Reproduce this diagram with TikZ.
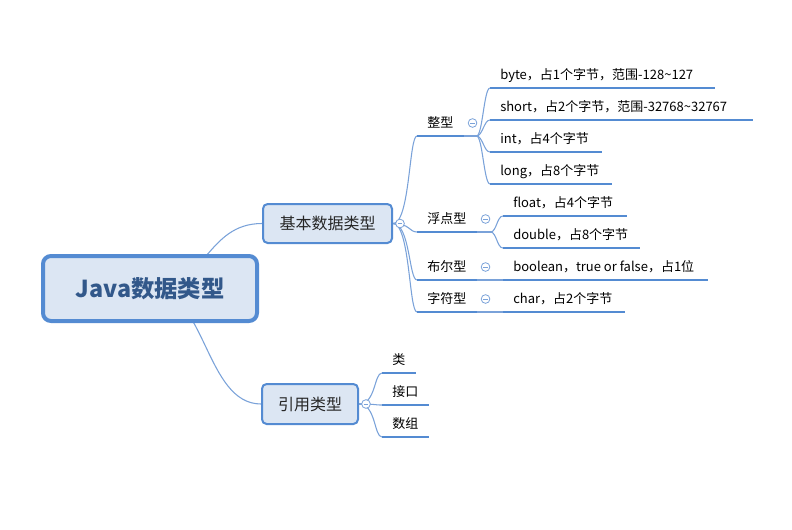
\documentclass[tikz,border=0pt]{standalone}
\usepackage{fontspec}
\setmainfont{Noto Sans CJK SC}
\usepackage{tikz}
\usetikzlibrary{positioning,calc,backgrounds}
\definecolor{mapblue}{RGB}{84,139,210}
\definecolor{thinblue}{RGB}{122,162,217}
\definecolor{boxfill}{RGB}{220,230,243}
\definecolor{roottext}{RGB}{50,88,138}
\tikzset{
  rootbox/.style={draw=mapblue, line width=3pt, fill=boxfill, rounded corners=6pt,
    minimum width=160.5pt, minimum height=48.75pt, text=roottext,
    font=\fontsize{17.5}{20}\selectfont\bfseries},
  mainbox/.style={draw=mapblue, line width=1.5pt, fill=boxfill, rounded corners=3.5pt,
    text=black!85, font=\fontsize{12}{14}\selectfont},
  topic/.style={anchor=south west, inner xsep=7.5pt, inner ysep=3.5pt,
    text height=8pt, text depth=2.5pt, font=\fontsize{9.75}{11}\selectfont},
  uline/.style={draw=mapblue, line width=2.2pt},
  branch/.style={draw=thinblue, line width=0.8pt},
  fold/.style={circle, draw=thinblue, fill=white, line width=0.6pt, minimum size=6.5pt, inner sep=0pt,
    path picture={\draw[thinblue, line width=0.6pt] ([xshift=1.4pt]path picture bounding box.west) -- ([xshift=-1.4pt]path picture bounding box.east);}}
}
\begin{document}
\begin{tikzpicture}[x=0.75pt,y=-0.75pt]
\useasboundingbox (0,0) rectangle (792,529);
\node[rootbox] (root) at (150,288.5) {Java数据类型};
\node[mainbox, minimum width=96.75pt, minimum height=29.25pt] (basic) at (327.5,223.5) {基本数据类型};
\node[mainbox, minimum width=72pt, minimum height=30pt] (ref) at (310,404) {引用类型};
\node[fold] (basicdot) at ($(basic.east)+(7,0)$) {};
\node[fold] (refdot) at ($(ref.east)+(7,0)$) {};
% second level
\node[topic] (zheng) at (417,136) {整型};
\node[topic] (fudian) at (417,232) {浮点型};
\node[topic] (buer) at (417,280) {布尔型};
\node[topic] (zifu) at (417,312) {字符型};
\node[topic] (lei) at (382,373) {类};
\node[topic] (jiekou) at (382,405) {接口};
\node[topic] (shuzu) at (382,437) {数组};
\foreach \n in {zheng,fudian,buer,zifu}
  \node[fold] (\n dot) at ($(\n.south east)+(9,-13)$) {};
% leaves
\node[topic] (byte) at (490,88) {byte，占1个字节，范围-128\textasciitilde127};
\node[topic] (short) at (490,120) {short，占2个字节，范围-32768\textasciitilde32767};
\node[topic] (int) at (490,152) {int，占4个字节};
\node[topic] (long) at (490,184) {long，占8个字节};
\node[topic] (float) at (503,216) {float，占4个字节};
\node[topic] (double) at (503,248) {double，占8个字节};
\node[topic] (bool) at (503,280) {boolean，true or false，占1位};
\node[topic] (char) at (503,312) {char，占2个字节};
\foreach \n in {zheng,fudian,buer,zifu,lei,jiekou,shuzu}
  \draw[uline] (\n.south west) -- (\n.south east);
\foreach \n/\l in {byte/225,short/263,int/112,long/122,float/124,double/137,bool/205,char/122}
  \draw[uline] (\n.south west) -- ++(\l,0);
\begin{scope}[on background layer]
  \draw[branch] (root.center) .. controls +(56,0) and +(-56,0) .. (basic.west);
  \draw[branch] (root.center) .. controls +(56,0) and +(-56,0) .. (ref.west);
  \foreach \n in {zheng,fudian,buer,zifu}
    \draw[branch] (basic.east) .. controls +(17,0) and +(-8,0) .. (\n.south west);
  \foreach \n in {lei,jiekou,shuzu}
    \draw[branch] (ref.east) .. controls +(17,0) and +(-8,0) .. (\n.south west);
  \coordinate (zhengb) at ($(zheng.south east)+(13,0)$);
  \coordinate (fudianb) at ($(fudian.south east)+(14,0)$);
  \draw[branch] (zheng.south east) -- (zhengb);
  \draw[branch] (fudian.south east) -- (fudianb);
  \foreach \n in {byte,short,int,long}
    \draw[branch] (zhengb) .. controls +(6,0) and +(-6,0) .. (\n.south west);
  \foreach \n in {float,double}
    \draw[branch] (fudianb) .. controls +(6,0) and +(-6,0) .. (\n.south west);
  \draw[branch] (buer.south east) -- (bool.south west);
  \draw[branch] (zifu.south east) -- (char.south west);
\end{scope}
\end{tikzpicture}
\end{document}
